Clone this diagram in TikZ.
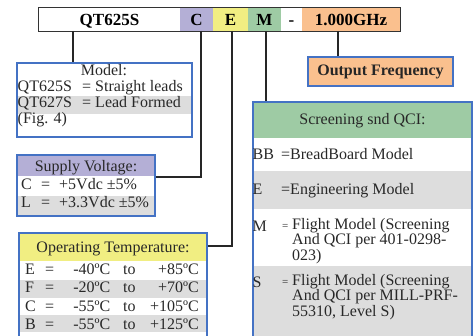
\documentclass[tikz,border=0pt]{standalone}
\usepackage{fontspec}
\setmainfont{Liberation Serif}
\definecolor{lav}{RGB}{180,175,214}
\definecolor{ylw}{RGB}{241,238,130}
\definecolor{grn}{RGB}{158,203,164}
\definecolor{org}{RGB}{250,192,142}
\definecolor{rowgray}{RGB}{221,221,221}
\definecolor{bordblue}{RGB}{68,114,196}
\definecolor{txtc}{RGB}{40,40,40}
\tikzset{
  seg/.style={inner sep=0pt, minimum height=23pt, text height=11.5pt, text depth=0pt,
              font=\fontsize{17}{17}\selectfont\bfseries, text=black},
  frame/.style={draw=bordblue, line width=1.3pt, inner sep=0pt},
  cell/.style={inner sep=0pt, draw=none, minimum height=#1},
  cell/.default=20pt,
  txt/.style={inner sep=0pt, font=\fontsize{16}{15.5}\selectfont, text=txtc},
  conn/.style={draw=black!85, line width=1.3pt},
}
\begin{document}
\begin{tikzpicture}[x=1pt,y=-1pt]
\useasboundingbox (0,0) rectangle (475,336);

% ---------- top code bar ----------
\node[seg, fill=white, minimum width=141pt] (qt) at (109.5,19.5) {QT625S};
\node[seg, fill=lav, minimum width=33pt] (c) at (196.5,19.5) {C};
\node[seg, fill=ylw, minimum width=35pt] (e) at (230.5,19.5) {E};
\node[seg, fill=grn, minimum width=33pt] (m) at (264.5,19.5) {M};
\node[seg, fill=white, minimum width=21pt] (dash) at (291.5,19.5) {-};
\node[seg, fill=org, minimum width=98pt] (ghz) at (351,19.5) {1.000GHz};
\draw[draw=black!80, line width=1.2pt] (qt.north west) rectangle (ghz.south east);

% ---------- Model box ----------
\node[cell=18pt, fill=rowgray, minimum width=175pt] (modelrow2) at (104.5,105.5) {};
\node[frame, minimum width=175pt, minimum height=74pt] (model) at (104.5,100) {};
\node[txt, anchor=base] (modelt) at (104,76) {Model:};
\node[txt, anchor=base west] (m1a) at (17.5,92) {QT625S};
\node[txt, anchor=base west] (m1b) at (82,92) {= Straight leads};
\node[txt, anchor=base west] (m2a) at (17.5,108) {QT627S};
\node[txt, anchor=base west] (m2b) at (82,108) {= Lead Formed};
\node[txt, anchor=base west] (m3) at (17.5,124) {(Fig. 4)};

% ---------- Supply voltage box ----------
\node[cell=21pt, fill=lav, minimum width=138pt] (supplyhead) at (86,165.5) {};
\node[cell=19.5pt, fill=rowgray, minimum width=138pt] (supplyL) at (86,205.75) {};
\node[frame, minimum width=138pt, minimum height=61pt] (supply) at (86,185.5) {};
\node[txt, anchor=base] (supplyt) at (86,172) {Supply Voltage:};
\node[txt, anchor=base west] (sc1) at (21,190) {C};
\node[txt, anchor=base west] (sc2) at (41,190) {=};
\node[txt, anchor=base west] (sc3) at (59,190) {+5Vdc ±5\%};
\node[txt, anchor=base west] (sl1) at (21,208) {L};
\node[txt, anchor=base west] (sl2) at (41,208) {=};
\node[txt, anchor=base west] (sl3) at (59,208) {+3.3Vdc ±5\%};

% ---------- Operating temperature box ----------
\node[cell=28pt, fill=ylw, minimum width=188pt] (temphead) at (113,247) {};
\node[cell=18pt, fill=rowgray, minimum width=188pt] (tempF) at (113,289) {};
\node[cell=17pt, fill=rowgray, minimum width=188pt] (tempB) at (113,323.5) {};
\node[frame, minimum width=188pt, minimum height=115pt] (temp) at (113,290.5) {};
\node[txt, anchor=base] (tempt) at (113,253) {Operating Temperature:};
\foreach \nm/\k/\lo/\hi/\yy in {te/E/-40/+85/275, tf/F/-20/+70/293, tc/C/-55/+105/311.5, tb/B/-55/+125/329.5}{
  \node[txt, anchor=base west] (\nm1) at (25,\yy) {\k};
  \node[txt, anchor=base west] (\nm2) at (45,\yy) {=};
  \node[txt, anchor=base east] (\nm3) at (110.5,\yy) {\lo ºC};
  \node[txt, anchor=base west] (\nm4) at (123,\yy) {to};
  \node[txt, anchor=base east] (\nm5) at (199,\yy) {\hi ºC};
}

% ---------- Output frequency box ----------
\node[frame, fill=org, minimum width=145pt, minimum height=29pt,
      font=\fontsize{16}{16}\selectfont\bfseries, text=black!85] (freq) at (380.5,71.5) {Output Frequency};

% ---------- Screening box ----------
\node[cell=36pt, fill=grn, minimum width=219pt] (scrhead) at (362.5,120) {};
\node[cell=38pt, fill=rowgray, minimum width=219pt] (scrE) at (362.5,190) {};
\node[cell=72pt, fill=rowgray, minimum width=219pt] (scrS) at (362.5,302) {};
\node[frame, minimum width=219pt, minimum height=250pt] (scr) at (362.5,227) {};
\node[txt, anchor=base] (scrt) at (362.5,125) {Screening snd QCI:};
\node[txt, anchor=base west] (bb1) at (252.5,160) {BB};
\node[txt, anchor=base west] (bb2) at (281,160) {=BreadBoard Model};
\node[txt, anchor=base west] (e1) at (252.5,195) {E};
\node[txt, anchor=base west] (e2) at (281,195) {=Engineering Model};
\node[txt, anchor=base west] (mm1) at (252.5,232) {M};
\node[txt, anchor=base west, font=\fontsize{11}{11}\selectfont] (mm2) at (282,230) {=};
\node[txt, anchor=north west, align=left] (mm3) at (292,218)
  {Flight Model (Screening\\And QCI per 401-0298-\\023)};
\node[txt, anchor=base west] (ss1) at (252.5,288) {S};
\node[txt, anchor=base west, font=\fontsize{11}{11}\selectfont] (ss2) at (282,286) {=};
\node[txt, anchor=north west, align=left] (ss3) at (292,274)
  {Flight Model (Screening\\And QCI per MILL-PRF-\\55310, Level S)};

% ---------- connectors ----------
\coordinate (pqt) at (73,31);
\coordinate (pc) at (201,31);
\coordinate (pe) at (232,31);
\coordinate (pm) at (266,31);
\coordinate (pf) at (338,31);
\draw[conn] (pqt) -- (pqt |- model.north);
\draw[conn] (pc) |- (supply.east |- 0,177);
\draw[conn] (pe) |- (temp.east |- 0,246);
\draw[conn] (pm) -- (pm |- scr.north);
\draw[conn] (pf) -- (pf |- freq.north);
\end{tikzpicture}
\end{document}
